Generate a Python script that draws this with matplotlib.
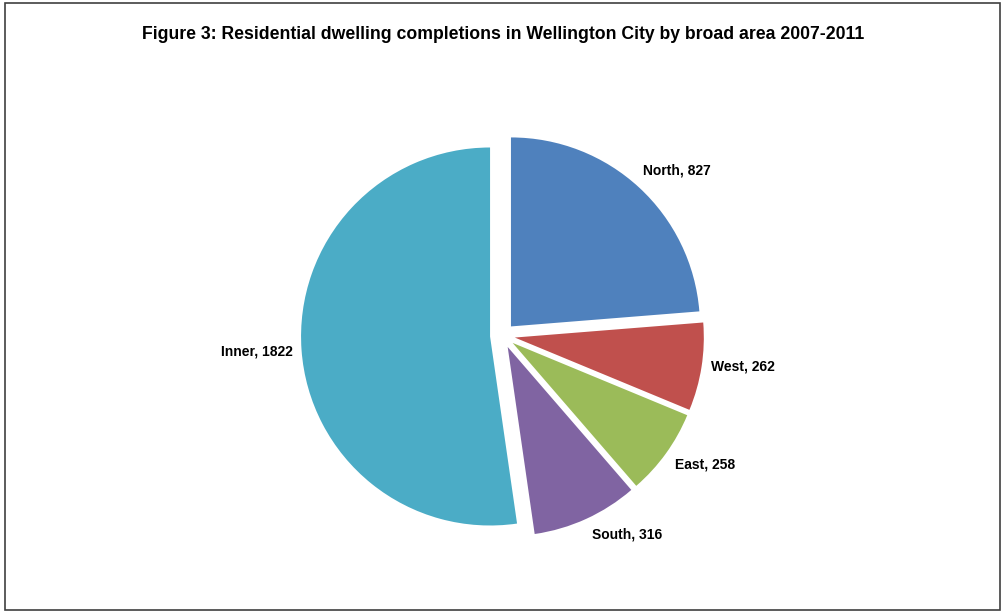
import numpy as np
import matplotlib
matplotlib.use("Agg")
import matplotlib.pyplot as plt
from matplotlib.patches import Rectangle

areas = ["North", "West", "East", "South", "Inner"]
completions = [827, 262, 258, 316, 1822]
colours = ["#4F81BD", "#C0504D", "#9BBB59", "#8064A2", "#4BACC6"]

title = "Figure 3: Residential dwelling completions in Wellington City by broad area 2007-2011"

W, H, DPI = 1003, 612, 100
cx, cy, rad = 502.5, 335.6, 189.0  # pie centre / radius in px, measured from top-left

# label placement: angle shift from wedge middle (deg, ccw) and distance in radii
label_shift = [-3.8, 1.7, 3.4, 7.6, -0.3]
label_dist = [1.27, 1.28, 1.27, 1.24, 1.30]

plt.rcParams["font.family"] = ["Liberation Sans", "DejaVu Sans"]

fig = plt.figure(figsize=(W / DPI, H / DPI), dpi=DPI)
ax = fig.add_axes([0, 0, 1, 1])

wedges, _ = ax.pie(completions, colors=colours, startangle=90, counterclock=False,
                   explode=[0.066] * len(completions), radius=1.0,
                   wedgeprops=dict(linewidth=0))

# limits chosen so one data unit == rad pixels in both directions
ax.set_xlim(-cx / rad, (W - cx) / rad)
ax.set_ylim(-(H - cy) / rad, cy / rad)
ax.axis("off")

for w, name, val, sh, d in zip(wedges, areas, completions, label_shift, label_dist):
    mid = np.deg2rad((w.theta1 + w.theta2) / 2 + sh)
    ax.text(d * np.cos(mid), d * np.sin(mid), f"{name}, {val}",
            ha="center", va="center", fontsize=10, fontweight="bold")

fig.text(503 / W, 1 - 39 / H, title, ha="center", va="baseline",
         fontsize=12.7, fontweight="bold")

fig.patches.append(Rectangle((5 / W, 2 / H), 995 / W, 607 / H, transform=fig.transFigure,
                             fill=False, edgecolor="#404040", linewidth=1.2))

fig.savefig("out.png", dpi=DPI)
